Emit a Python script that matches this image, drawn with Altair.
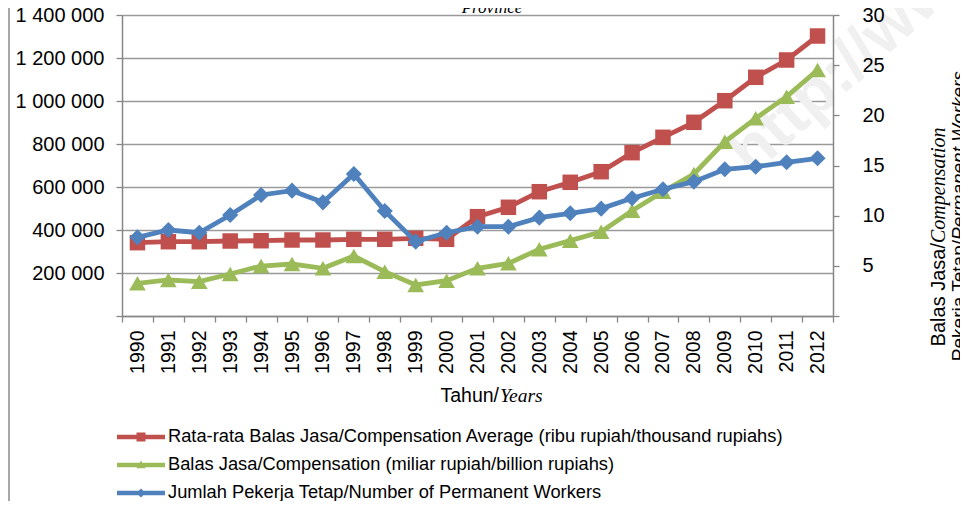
import altair as alt
import pandas as pd

years = [str(y) for y in range(1990, 2013)]

series_names = [
    "Rata-rata Balas Jasa/Compensation Average (ribu rupiah/thousand rupiahs)",
    "Balas Jasa/Compensation (miliar rupiah/billion rupiahs)",
    "Jumlah Pekerja Tetap/Number of Permanent Workers",
]
series_colors = ["#C0504D", "#9BBB59", "#4F81BD"]

# left axis (ribu rupiah)
avg_comp = [341000, 345600, 345600, 348800, 350200, 353500, 353500, 356700, 356700, 361400,
            356700, 461900, 505600, 578100, 621900, 671200, 759600, 831200, 900900, 1001400,
            1110200, 1190700, 1302300]
# right axis
compensation = [3.26, 3.59, 3.42, 4.19, 4.98, 5.18, 4.75, 5.98, 4.42, 3.09, 3.52, 4.75, 5.25,
                6.65, 7.51, 8.40, 10.50, 12.39, 14.15, 17.37, 19.70, 21.86, 24.52]
workers = [7.84, 8.57, 8.30, 10.07, 12.06, 12.49, 11.33, 14.15, 10.47, 7.41, 8.30, 8.90, 8.90,
           9.80, 10.24, 10.70, 11.73, 12.63, 13.39, 14.62, 14.88, 15.32, 15.72]

left_ticks = [0, 200000, 400000, 600000, 800000, 1000000, 1200000, 1400000]
right_ticks = [0, 5, 10, 15, 20, 25, 30]

title_fragment = "Province"
x_title = ["Tahun/", "Years"]
r_title1 = ["Balas Jasa/", "Compensation"]
r_title2 = ["Pekerja Tetap/", "Permanent Workers"]
watermark = "http://www"

legend_shapes = [
    "M-2.4,-0.22H2.4V0.22H-2.4Z M-0.45,-0.45H0.45V0.45H-0.45Z",
    "M-2.4,-0.22H2.4V0.22H-2.4Z M0,-0.45L0.45,0.32L-0.45,0.32Z",
    "M-2.4,-0.22H2.4V0.22H-2.4Z M0,-0.45L0.45,0L0,0.45L-0.45,0Z",
]

rows = []
for name, vals in zip(series_names, [avg_comp, compensation, workers]):
    for y, v in zip(years, vals):
        rows.append({"year": y, "series": name, "value": v})
df = pd.DataFrame(rows)

SANS = "Liberation Sans"
SERIF = "Liberation Serif"

x_enc = alt.X(
    "year:O",
    scale=alt.Scale(type="band", paddingInner=0, paddingOuter=0),
    bandPosition=0.5,
    axis=alt.Axis(
        title=None, labelAngle=-90, tickBand="extent", tickSize=6, labelPadding=8,
        labelFontSize=19.5, labelFont=SANS, labelColor="#000", domainColor="#868686",
        domainWidth=1.5, tickColor="#868686", tickWidth=1.3, grid=False,
    ),
)

y_left = alt.Y(
    "value:Q",
    scale=alt.Scale(domain=[0, 1400000], nice=False, zero=True),
    axis=alt.Axis(
        title=None, values=left_ticks, grid=True, gridColor="#9a9a9a", gridWidth=1.3,
        tickSize=6, tickColor="#868686", tickWidth=1.3, domainColor="#868686", domainWidth=1.5,
        labelFontSize=20, labelFont=SANS, labelColor="#000", labelPadding=12,
        labelExpr="datum.value == 0 ? '' : replace(format(datum.value, ','), regexp(',', 'g'), ' ')",
    ),
)

y_right = alt.Y(
    "value:Q",
    scale=alt.Scale(domain=[0, 30], nice=False, zero=True),
    axis=alt.Axis(
        title=None, orient="right", values=right_ticks, grid=False, zindex=2,
        tickSize=6, tickColor="#868686", tickWidth=1.3, domainColor="#868686", domainWidth=1.5,
        labelFontSize=20, labelFont=SANS, labelColor="#000", labelPadding=23,
        labelExpr="datum.value == 0 ? '' : datum.label",
    ),
)

base = alt.Chart(df)


def series_layers(idx, shape, size, y_enc):
    sub = base.transform_filter(alt.datum.series == series_names[idx])
    line = sub.mark_line(color=series_colors[idx], strokeWidth=4.8).encode(x=x_enc, y=y_enc)
    pts = sub.mark_point(shape=shape, filled=True, size=size, opacity=1,
                         color=series_colors[idx]).encode(x=x_enc, y=y_enc)
    return [line, pts]


def text_layer(txt, x, y, font, size, align="left", baseline="alphabetic", angle=0,
               style="normal", weight="normal", color="#000"):
    props = dict(font=font, fontSize=size, align=align, baseline=baseline,
                 fontStyle=style, fontWeight=weight, color=color)
    if angle:
        props["angle"] = angle
    return alt.Chart(pd.DataFrame({"t": [txt]})).mark_text(**props).encode(
        text="t:N", x=alt.value(x), y=alt.value(y))


wm = text_layer(watermark, 630, 162, SANS, 64, angle=318, weight="bold", color="#f0f0f0")
border = alt.Chart(pd.DataFrame({"a": [0]})).mark_rule(color="#8a8a8a", strokeWidth=1.5).encode(
    x=alt.value(-113), y=alt.value(-20), y2=alt.value(500))

left = alt.layer(wm, border, *series_layers(0, "square", 240, y_left))

legend_layer = base.mark_point(filled=True, size=0, opacity=1).encode(
    x=x_enc, y=y_right,
    color=alt.Color("series:N", scale=alt.Scale(domain=series_names, range=series_colors),
                    legend=alt.Legend(
                        title=None, orient="none", legendX=9, legendY=412, direction="vertical",
                        symbolSize=400, symbolStrokeWidth=0, symbolOpacity=1,
                        labelFont=SANS, labelFontSize=18.3, labelColor="#000", labelLimit=0,
                        labelOffset=17, rowPadding=9, padding=0, offset=0,
                    )),
    shape=alt.Shape("series:N", scale=alt.Scale(domain=series_names, range=legend_shapes)),
)

texts = [
    text_layer(title_fragment, 370, -2, SERIF, 17, align="center", style="italic"),
    text_layer(x_title[0], 377, 387, SANS, 19.5, align="right"),
    text_layer(x_title[1], 378, 387, SERIF, 19.5, align="left", style="italic"),
    text_layer(r_title1[0], 823, 228, SANS, 20, align="right", angle=270),
    text_layer(r_title1[1], 823, 228, SERIF, 20, align="left", angle=270, style="italic"),
    text_layer(r_title2[0], 843, 225, SANS, 19, align="right", angle=270),
    text_layer(r_title2[1], 843, 225, SANS, 19, align="left", angle=270, style="italic"),
]

right = alt.layer(
    *series_layers(1, "triangle-up", 280, y_right),
    *series_layers(2, "diamond", 260, y_right),
    legend_layer,
    *texts,
)

chart = alt.layer(left, right).resolve_scale(y="independent").properties(
    width=711, height=301,
    autosize=alt.AutoSizeParams(type="none"),
    padding={"left": 114, "top": 7, "right": 127, "bottom": 185},
    background="white",
).configure_view(stroke=None)

chart.save("out.html", embed_options={"renderer": "svg", "actions": False})
